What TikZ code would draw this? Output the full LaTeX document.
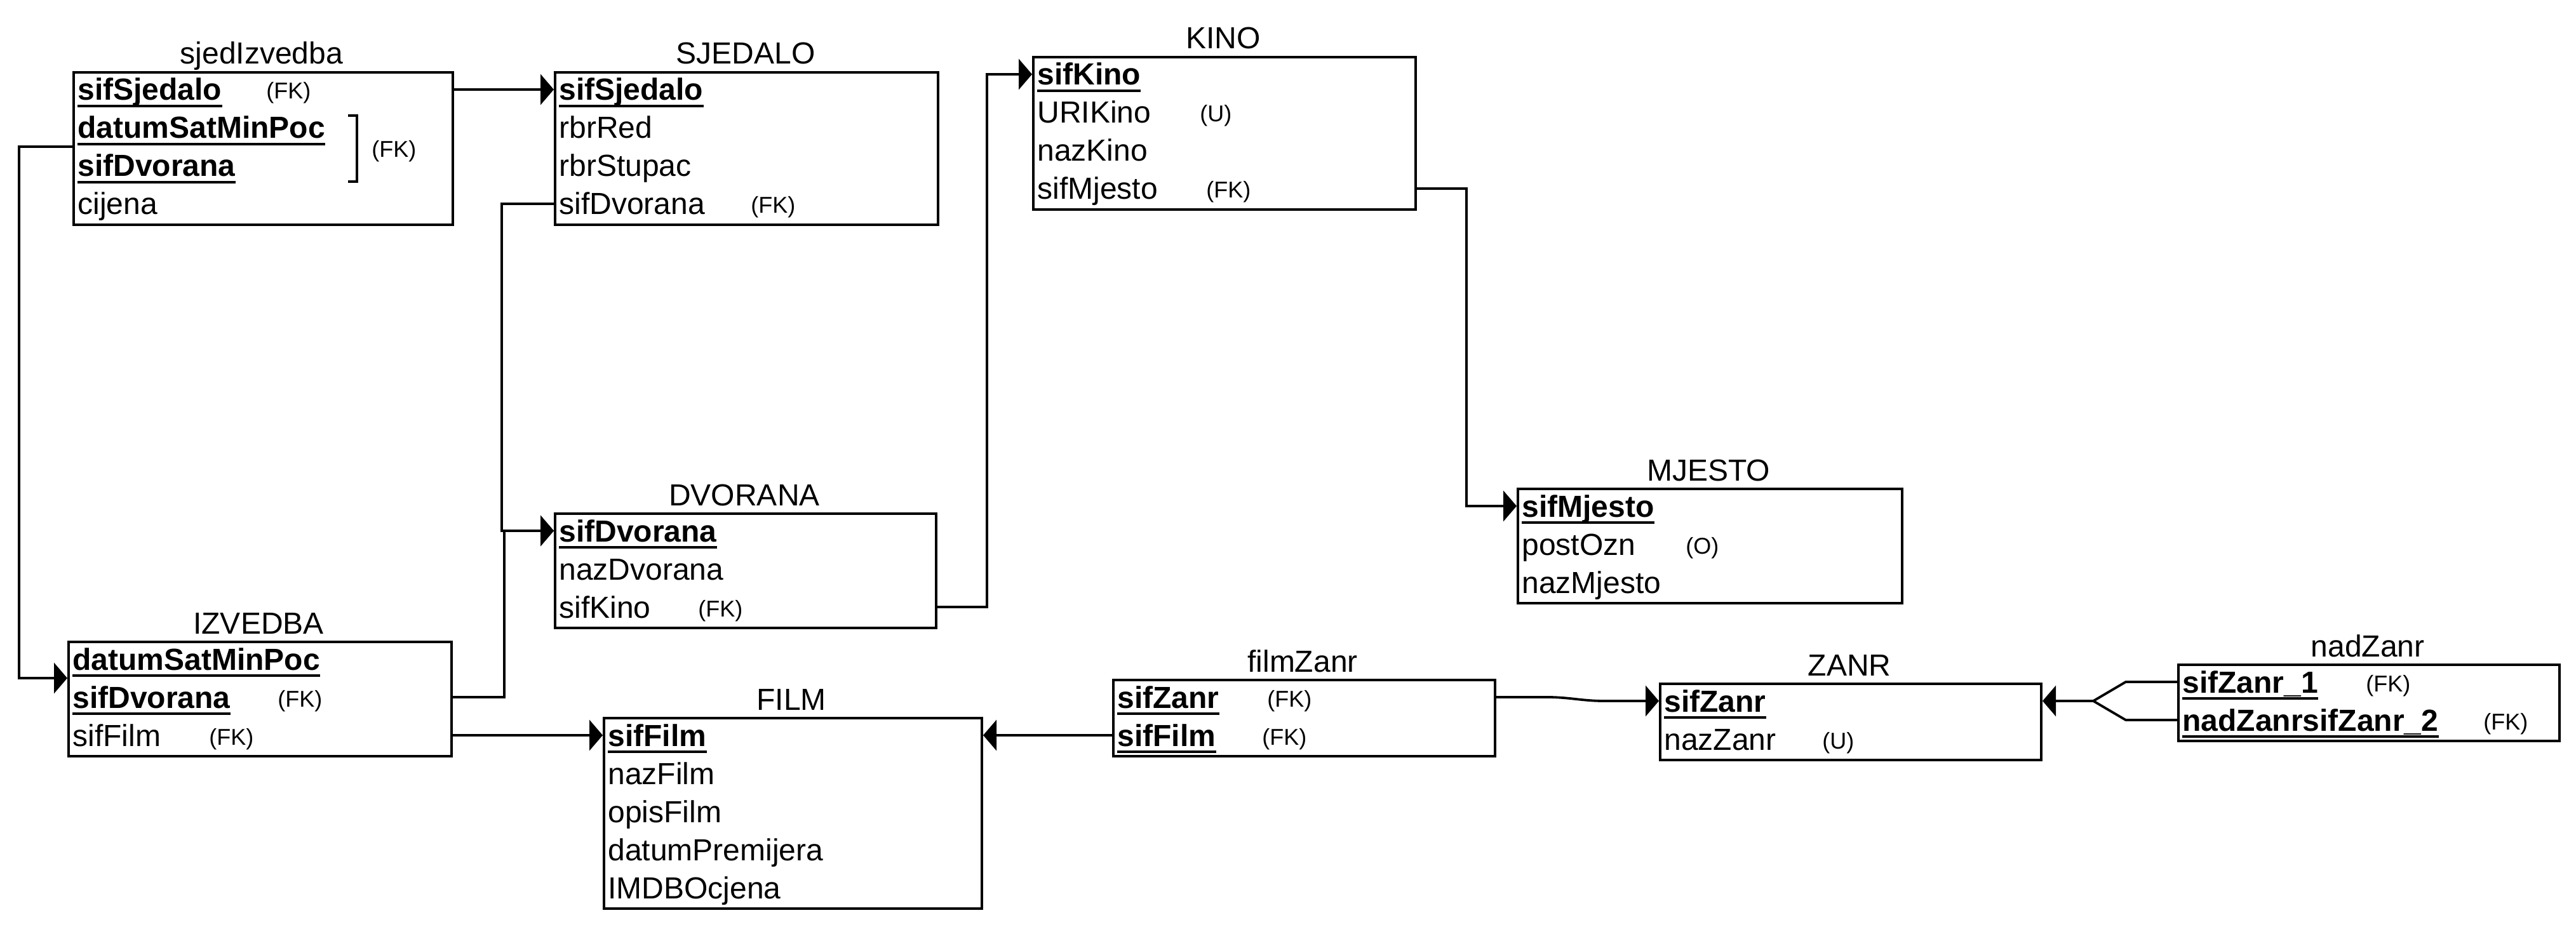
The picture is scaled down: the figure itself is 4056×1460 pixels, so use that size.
\documentclass[tikz,border=0pt]{standalone}
\usepackage{fontspec}
\setmainfont{Liberation Sans}
\usetikzlibrary{arrows.meta,calc}
\tikzset{
  ent/.style={draw, line width=2pt, anchor=north west, inner sep=0pt, minimum width=300pt},
  ttl/.style={anchor=base, inner sep=0pt, font=\fontsize{24}{28}\selectfont},
  fld/.style={anchor=base west, inner sep=0pt, font=\fontsize{24}{28}\selectfont},
  pk/.style={anchor=base west, inner sep=0pt, font=\fontsize{24}{28}\selectfont\bfseries},
  tag/.style={anchor=base west, inner sep=0pt, font=\fontsize{18}{21}\selectfont},
  uline/.style={line width=1.8pt},
  link/.style={line width=1.9pt},
  rel/.style={line width=1.9pt, -{Triangle[length=10.5pt,width=24pt]}},
}
\newcommand\pkline[1]{\draw[uline] ([yshift=-4.5pt]#1.base west) -- ([yshift=-4.5pt]#1.base east);}
\begin{document}
\begin{tikzpicture}[x=0.5pt,y=-0.5pt]
\useasboundingbox (0,0) rectangle (4056,1460);

% ---------- sjedIzvedba
\node[ent, minimum width=298.5pt, minimum height=120pt] (sjed) at (114,112) {};
\node[ttl] (sjedT) at (412,101) {sjedIzvedba};
\node[pk] (sjed0) at (122,158) {sifSjedalo};
\node[pk] (sjed1) at (122,218) {datumSatMinPoc};
\node[pk] (sjed2) at (122,278) {sifDvorana};
\node[fld] (sjed3) at (122,338) {cijena};
\pkline{sjed0}\pkline{sjed1}\pkline{sjed2}
\node[tag] (sjedt0) at (419,156) {(FK)};
\draw[link] (548,182) -- (562,182) -- (562,286) -- (548,286);
\node[tag] (sjedt1) at (585,248) {(FK)};

% ---------- SJEDALO
\node[ent, minimum width=301.5pt, minimum height=120pt] (sjedalo) at (872,112) {};
\node[ttl] (sjedaloT) at (1174,101) {SJEDALO};
\node[pk] (sjedalo0) at (880,158) {sifSjedalo};
\node[fld] (sjedalo1) at (880,218) {rbrRed};
\node[fld] (sjedalo2) at (880,278) {rbrStupac};
\node[fld] (sjedalo3) at (880,338) {sifDvorana};
\pkline{sjedalo0}
\node[tag] (sjedalot3) at (1182,336) {(FK)};

% ---------- KINO
\node[ent, minimum width=301pt, minimum height=120pt] (kino) at (1625,88) {};
\node[ttl] (kinoT) at (1926,77) {KINO};
\node[pk] (kino0) at (1633,134) {sifKino};
\node[fld] (kino1) at (1633,194) {URIKino};
\node[fld] (kino2) at (1633,254) {nazKino};
\node[fld] (kino3) at (1633,314) {sifMjesto};
\pkline{kino0}
\node[tag] (kinot1) at (1889,192) {(U)};
\node[tag] (kinot3) at (1899,312) {(FK)};

% ---------- MJESTO
\node[ent, minimum width=302.5pt, minimum height=90pt] (mjesto) at (2388,768) {};
\node[ttl] (mjestoT) at (2690,757) {MJESTO};
\node[pk] (mjesto0) at (2396,814) {sifMjesto};
\node[fld] (mjesto1) at (2396,874) {postOzn};
\node[fld] (mjesto2) at (2396,934) {nazMjesto};
\pkline{mjesto0}
\node[tag] (mjestot1) at (2654,872) {(O)};

% ---------- DVORANA
\node[ent, minimum width=300pt, minimum height=90pt] (dvorana) at (872,807) {};
\node[ttl] (dvoranaT) at (1172,796) {DVORANA};
\node[pk] (dvorana0) at (880,853) {sifDvorana};
\node[fld] (dvorana1) at (880,913) {nazDvorana};
\node[fld] (dvorana2) at (880,973) {sifKino};
\pkline{dvorana0}
\node[tag] (dvoranat2) at (1099,971) {(FK)};

% ---------- IZVEDBA
\node[ent, minimum width=301.5pt, minimum height=90pt] (izvedba) at (106,1009) {};
\node[ttl] (izvedbaT) at (407,998) {IZVEDBA};
\node[pk] (izvedba0) at (114,1055) {datumSatMinPoc};
\node[pk] (izvedba1) at (114,1115) {sifDvorana};
\node[fld] (izvedba2) at (114,1175) {sifFilm};
\pkline{izvedba0}\pkline{izvedba1}
\node[tag] (izvedbat1) at (437,1113) {(FK)};
\node[tag] (izvedbat2) at (329,1173) {(FK)};

% ---------- FILM
\node[ent, minimum width=297.5pt, minimum height=150pt] (film) at (949,1129) {};
\node[ttl] (filmT) at (1246,1118) {FILM};
\node[pk] (film0) at (957,1175) {sifFilm};
\node[fld] (film1) at (957,1235) {nazFilm};
\node[fld] (film2) at (957,1295) {opisFilm};
\node[fld] (film3) at (957,1355) {datumPremijera};
\node[fld] (film4) at (957,1415) {IMDBOcjena};
\pkline{film0}

% ---------- filmZanr
\node[ent, minimum width=300.5pt, minimum height=60pt] (filmzanr) at (1751,1069) {};
\node[ttl] (filmzanrT) at (2051,1058) {filmZanr};
\node[pk] (filmzanr0) at (1759,1115) {sifZanr};
\node[pk] (filmzanr1) at (1759,1175) {sifFilm};
\pkline{filmzanr0}\pkline{filmzanr1}
\node[tag] (filmzanrt0) at (1995,1113) {(FK)};
\node[tag] (filmzanrt1) at (1987,1173) {(FK)};

% ---------- ZANR
\node[ent, minimum width=300pt, minimum height=60pt] (zanr) at (2612,1075) {};
\node[ttl] (zanrT) at (2912,1064) {ZANR};
\node[pk] (zanr0) at (2620,1121) {sifZanr};
\node[fld] (zanr1) at (2620,1181) {nazZanr};
\pkline{zanr0}
\node[tag] (zanrt1) at (2869,1179) {(U)};

% ---------- nadZanr
\node[ent, minimum width=300pt, minimum height=60pt] (nadzanr) at (3428,1045) {};
\node[ttl] (nadzanrT) at (3728,1034) {nadZanr};
\node[pk] (nadzanr0) at (3436,1091) {sifZanr\_1};
\node[pk] (nadzanr1) at (3436,1151) {nadZanrsifZanr\_2};
\pkline{nadzanr0}\pkline{nadzanr1}
\node[tag] (nadzanrt0) at (3725,1089) {(FK)};
\node[tag] (nadzanrt1) at (3910,1149) {(FK)};

% ---------- connectors
\draw[rel] ($(sjed.north east)+(0,29)$) -- ($(sjedalo.north west)+(0,29)$);
\draw[rel] ($(sjed.north west)+(0,119)$) -- ++(-84,0) |- ($(izvedba.north west)+(0,59)$);
\draw[rel] ($(sjedalo.north west)+(0,209)$) -- ++(-82,0) |- ($(dvorana.north west)+(0,29)$);
\draw[rel] ($(izvedba.north east)+(0,89)$) -- ++(81,0) |- ($(dvorana.north west)+(0,29)$);
\draw[rel] ($(dvorana.north east)+(0,149)$) -- ++(78,0) |- ($(kino.north west)+(0,29)$);
\draw[rel] ($(kino.north east)+(0,209)$) -- ++(78,0) |- ($(mjesto.north west)+(0,29)$);
\draw[rel] ($(izvedba.north east)+(0,149)$) -- ($(film.north west)+(0,29)$);
\draw[rel] ($(filmzanr.north west)+(0,89)$) -- ($(film.north east)+(0,29)$);
\draw[rel] ($(filmzanr.north east)+(0,29)$) -- ++(80,0) to[out=0,in=180] ++(90,6) -- ($(zanr.north west)+(0,29)$);
\coordinate (fork) at ($(zanr.north east)+(80,29)$);
\draw[link] ($(nadzanr.north west)+(0,29)$) -- ++(-81,0) -- (fork);
\draw[link] ($(nadzanr.north west)+(0,89)$) -- ++(-81,0) -- (fork);
\draw[rel] (fork) -- ($(zanr.north east)+(0,29)$);
\end{tikzpicture}
\end{document}
